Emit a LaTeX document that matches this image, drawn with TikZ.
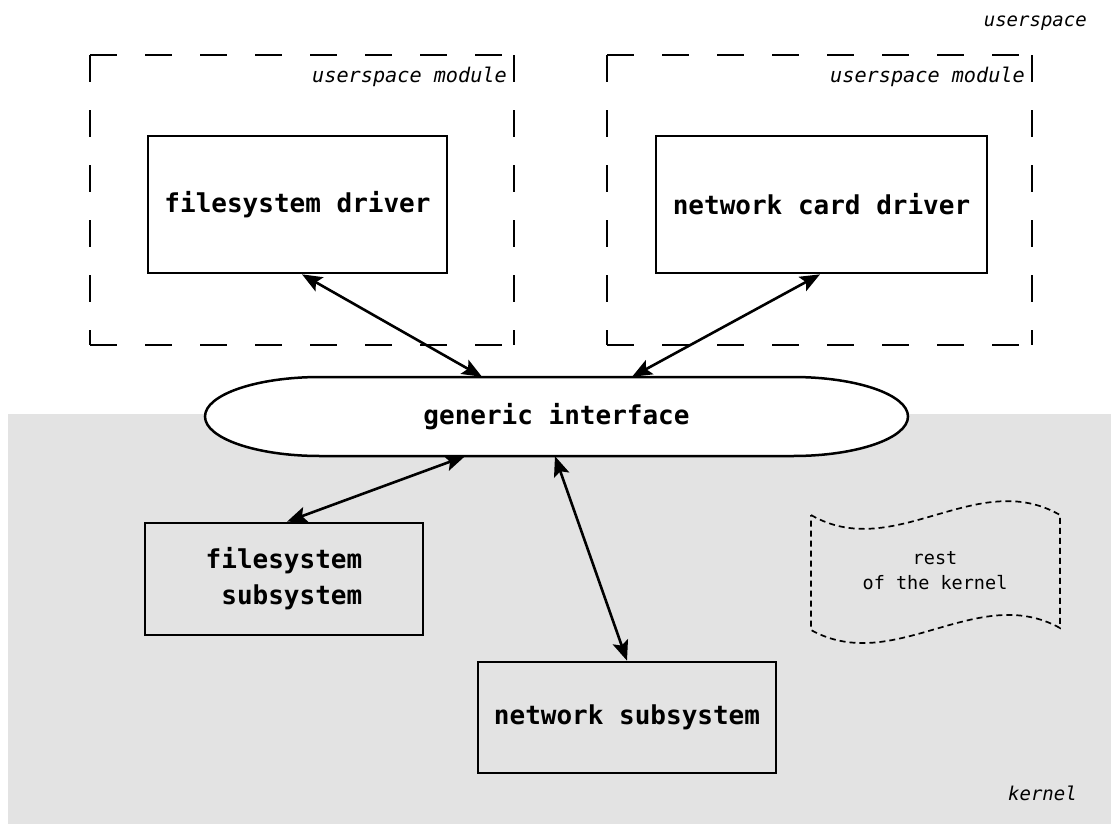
\documentclass[tikz,border=0pt]{standalone}
\usepackage{fontspec}
\setmonofont{DejaVu Sans Mono}[
  BoldFont={DejaVu Sans Mono Bold},
  ItalicFont={DejaVu Sans Mono Oblique}]
\usetikzlibrary{arrows.meta,calc}

\definecolor{kernelgray}{RGB}{227,227,227}

\begin{document}
\begin{tikzpicture}[x=1pt,y=-1pt,
  box/.style={draw,line width=2.7pt,inner sep=0pt,
    font=\ttfamily\bfseries\fontsize{26}{36}\selectfont},
  module/.style={draw,line width=2pt,dash pattern=on 27pt off 28pt},
  tag/.style={inner sep=0pt,font=\ttfamily\itshape\fontsize{19}{24}\selectfont},
  modtag/.style={tag,font=\ttfamily\itshape\fontsize{20.2}{24}\selectfont},
  note/.style={inner sep=0pt,align=center,font=\ttfamily\fontsize{18.5}{25}\selectfont},
  link/.style={line width=2.6pt,
    {Stealth[length=20pt,width=16pt,inset=4pt]}-{Stealth[length=20pt,width=16pt,inset=4pt]}},
  rest/.style={draw,line width=1.7pt,dash pattern=on 6pt off 4pt},
]
\useasboundingbox (0,0) rectangle (1111,825);

% kernel area
\fill[kernelgray] (8,414) rectangle (1111,824);
\node[tag,anchor=base east] (userspace) at (1087,26) {userspace};
\node[tag,anchor=base east] (kernel) at (1077,800) {kernel};

% userspace modules: each side dashed from its top or left end
\foreach \l/\r in {90/514, 607/1032} {
  \draw[module] (\l,55) -- (\r,55);
  \draw[module] (\l,345) -- (\r,345);
  \draw[module] (\l,55) -- (\l,345);
  \draw[module] (\r,55) -- (\r,345);
}
\node[modtag,anchor=base east] (modA) at (507,82) {userspace module};
\node[modtag,anchor=base east] (modB) at (1025,82) {userspace module};

% drivers
\node[box,minimum width=299pt,minimum height=137pt] (fsd) at (297.5,204.5) {filesystem driver};
\node[box,minimum width=331pt,minimum height=137pt] (ncd) at (821.5,204.5) {network card driver};

% generic interface
\draw[line width=2.5pt,fill=white] (320,377) -- (793,377)
  arc[start angle=90,end angle=-90,x radius=115pt,y radius=39.5pt]
  -- (320,456)
  arc[start angle=270,end angle=90,x radius=115pt,y radius=39.5pt] -- cycle;
\node[inner sep=0pt,minimum width=703pt,minimum height=79pt,
  font=\ttfamily\bfseries\fontsize{26}{36}\selectfont] (gi) at (556.5,416.5) {generic interface};

% kernel subsystems
\node[box,minimum width=278pt,minimum height=112pt,align=left] (fss) at (284,579)
  {filesystem\\\hphantom{s}subsystem};
\node[box,minimum width=298pt,minimum height=111pt] (nss) at (627,717.5) {network subsystem};

% rest of the kernel
\draw[rest] (811,515) .. controls (894,563) and (977,467) .. (1060,515)
  -- (1060,628) .. controls (977,582) and (894,676) .. (811,630) -- cycle;
\node[note] (rok) at (935,571) {rest\\of the kernel};

% connectors
\draw[link] ([xshift=4.5pt]fsd.south) -- ([xshift=-74.5pt]gi.north);
\draw[link] ([xshift=-1.5pt]ncd.south) -- ([xshift=75.5pt]gi.north);
\draw[link] ([xshift=-91.5pt]gi.south) -- ([xshift=3pt]fss.north);
\draw[link] ([xshift=-1.5pt]gi.south) -- (nss.north);
\end{tikzpicture}
\end{document}
